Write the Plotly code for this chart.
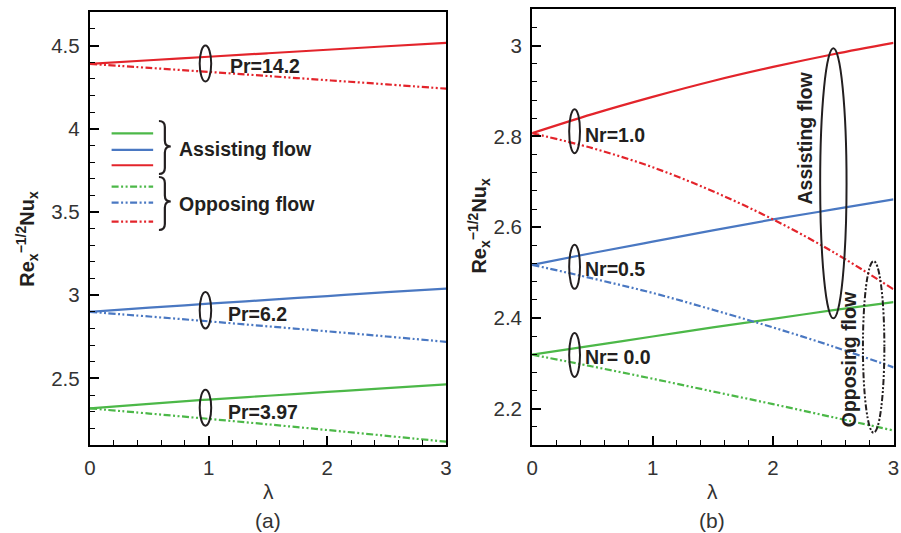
import plotly.graph_objects as go

# ---- data -------------------------------------------------------------
lam = [0.0, 0.5, 1.0, 1.5, 2.0, 2.5, 3.0]

# (a) effect of Prandtl number
pr_labels = ["Pr=3.97", "Pr=6.2", "Pr=14.2"]
pr_assist = [
    [2.320, 2.347, 2.373, 2.396, 2.419, 2.442, 2.464],
    [2.900, 2.925, 2.949, 2.972, 2.995, 3.018, 3.040],
    [4.390, 4.412, 4.433, 4.454, 4.475, 4.496, 4.516],
]
pr_oppose = [
    [2.320, 2.289, 2.257, 2.224, 2.190, 2.155, 2.120],
    [2.900, 2.872, 2.843, 2.813, 2.783, 2.752, 2.720],
    [4.390, 4.366, 4.342, 4.317, 4.292, 4.267, 4.241],
]

# (b) effect of radiation parameter
nr_labels = ["Nr= 0.0", "Nr=0.5", "Nr=1.0"]
nr_assist = [
    [2.319, 2.339, 2.359, 2.379, 2.398, 2.417, 2.435],
    [2.517, 2.543, 2.568, 2.593, 2.617, 2.639, 2.661],
    [2.807, 2.849, 2.887, 2.922, 2.953, 2.981, 3.006],
]
nr_oppose = [
    [2.319, 2.293, 2.266, 2.238, 2.210, 2.181, 2.152],
    [2.517, 2.487, 2.455, 2.418, 2.379, 2.337, 2.291],
    [2.807, 2.774, 2.732, 2.679, 2.617, 2.545, 2.463],
]

colors = ["#4cb848", "#4a78c2", "#e3242b"]
DASH = "7px,2.5px,2px,2.5px,2px,2.5px"
FONT = "Liberation Sans, Arial, sans-serif"
INK = "#231f20"

W, H = 901, 533

fig = go.Figure()

for i in range(3):
    fig.add_trace(go.Scatter(x=lam, y=pr_assist[i], mode="lines", xaxis="x", yaxis="y",
                             line=dict(color=colors[i], width=2.2, shape="spline"),
                             showlegend=False))
    fig.add_trace(go.Scatter(x=lam, y=pr_oppose[i], mode="lines", xaxis="x", yaxis="y",
                             line=dict(color=colors[i], width=2.2, dash=DASH, shape="spline"),
                             showlegend=False))
    fig.add_trace(go.Scatter(x=lam, y=nr_assist[i], mode="lines", xaxis="x2", yaxis="y2",
                             line=dict(color=colors[i], width=2.2, shape="spline"),
                             showlegend=False))
    fig.add_trace(go.Scatter(x=lam, y=nr_oppose[i], mode="lines", xaxis="x2", yaxis="y2",
                             line=dict(color=colors[i], width=2.2, dash=DASH, shape="spline"),
                             showlegend=False))


def P(x, y):
    """pixel position -> paper coordinates"""
    return x / W, 1 - y / H


shapes = []
annotations = []

# ellipses grouping each pair of curves
def ellipse(xr, yr, x0, x1, y0, y1, dash="solid"):
    shapes.append(dict(type="circle", xref=xr, yref=yr, x0=x0, x1=x1, y0=y0, y1=y1,
                       line=dict(color=INK, width=2, dash=dash)))

ellipse("x", "y", 0.925, 1.022, 4.284, 4.500)
ellipse("x", "y", 0.925, 1.022, 2.800, 3.020)
ellipse("x", "y", 0.925, 1.022, 2.216, 2.432)
ellipse("x2", "y2", 0.307, 0.397, 2.763, 2.860)
ellipse("x2", "y2", 0.307, 0.397, 2.464, 2.561)
ellipse("x2", "y2", 0.307, 0.397, 2.270, 2.367)
ellipse("x2", "y2", 2.391, 2.610, 2.399, 2.994)
ellipse("x2", "y2", 2.746, 2.924, 2.147, 2.525, dash="6px,2px,2px,2px,2px,2px")

# key samples in panel (a)
key_y = [3.973, 3.873, 3.781, 3.652, 3.556, 3.442]
for k, yv in enumerate(key_y):
    c = colors[k % 3]
    shapes.append(dict(type="line", xref="x", yref="y", x0=0.183, x1=0.533, y0=yv, y1=yv,
                       line=dict(color=c, width=2.2, dash="solid" if k < 3 else DASH)))

# curly braces
def brace(ytop, ymid, ybot, xl=155, xm=161, xr=167, r=6):
    pts = [
        ("M", [(xl, ytop)]),
        ("Q", [(xm, ytop), (xm, ytop + r)]),
        ("L", [(xm, ymid - r)]),
        ("Q", [(xm, ymid), (xr, ymid)]),
        ("Q", [(xm, ymid), (xm, ymid + r)]),
        ("L", [(xm, ybot - r)]),
        ("Q", [(xm, ybot), (xl, ybot)]),
    ]
    d = ""
    for cmd, pl in pts:
        d += cmd + " " + " ".join("%.5f,%.5f" % P(*p) for p in pl) + " "
    shapes.append(dict(type="path", xref="paper", yref="paper", path=d.strip(),
                       line=dict(color=INK, width=2.2)))

brace(121, 146.5, 174)
brace(177, 201.5, 230)


def label(xr, yr, x, y, text, xanchor="left", angle=0, size=19.5):
    annotations.append(dict(xref=xr, yref=yr, x=x, y=y, text="<b>%s</b>" % text,
                            showarrow=False, xanchor=xanchor, yanchor="middle",
                            textangle=angle, font=dict(family=FONT, size=size, color=INK)))

label("x", "y", 0.731, 3.881, "Assisting flow")
label("x", "y", 0.731, 3.548, "Opposing flow")
label("x", "y", 1.167, 4.380, pr_labels[2])
label("x", "y", 1.147, 2.889, pr_labels[1])
label("x", "y", 1.147, 2.296, pr_labels[0])
label("x2", "y2", 0.424, 2.803, nr_labels[2])
label("x2", "y2", 0.424, 2.507, nr_labels[1])
label("x2", "y2", 0.424, 2.314, nr_labels[0])
label("x2", "y2", 2.268, 2.796, "Assisting flow", xanchor="center", angle=-90)
label("x2", "y2", 2.627, 2.308, "Opposing flow", xanchor="center", angle=-90)

# axis titles and panel captions
ytitle = "<b>Re<sub>x</sub><sup>\u22121/2</sup>Nu<sub>x</sub></b>"
for (px, py) in [(21, 239), (480, 226)]:
    x, y = P(px, py)
    annotations.append(dict(xref="paper", yref="paper", x=x, y=y, text=ytitle, showarrow=False,
                            textangle=-90, xanchor="center", yanchor="middle",
                            font=dict(family=FONT, size=20, color=INK)))
for (px, txt) in [(266, "(a)"), (716, "(b)")]:
    x, y = P(px, 491)
    annotations.append(dict(xref="paper", yref="paper", x=x, y=y, text="\u03bb", showarrow=False,
                            xanchor="center", yanchor="middle",
                            font=dict(family=FONT, size=21, color="#333333")))
    x, y = P(px, 520)
    annotations.append(dict(xref="paper", yref="paper", x=x, y=y, text=txt, showarrow=False,
                            xanchor="center", yanchor="middle",
                            font=dict(family=FONT, size=21, color="#333333")))

tickfont = dict(family=FONT, size=20.5, color="#333333")


def xa(domain, anchor):
    return dict(domain=domain, anchor=anchor, range=[0, 3], dtick=1, tick0=0,
                ticks="inside", ticklen=9, tickwidth=1.6, tickcolor="black",
                minor=dict(dtick=0.2, tick0=0, ticks="inside", ticklen=5, tickwidth=1.3,
                           tickcolor="black", showgrid=False),
                showline=True, linewidth=2.2, linecolor="black", mirror=True,
                showgrid=False, zeroline=False, tickfont=tickfont, ticklabelstandoff=3)


def ya(domain, anchor, rng, dt, mdt):
    return dict(domain=domain, anchor=anchor, range=rng, dtick=dt, tick0=0,
                ticks="inside", ticklen=9, tickwidth=1.6, tickcolor="black",
                minor=dict(dtick=mdt, tick0=0, ticks="inside", ticklen=5, tickwidth=1.3,
                           tickcolor="black", showgrid=False),
                showline=True, linewidth=2.2, linecolor="black", mirror=True,
                showgrid=False, zeroline=False, tickfont=tickfont, ticklabelstandoff=4)


fig.update_layout(
    width=W, height=H,
    margin=dict(l=0, r=0, t=0, b=0),
    paper_bgcolor="white", plot_bgcolor="white",
    xaxis=xa([85 / W, 446 / W], "y"),
    yaxis=ya([1 - 445 / H, 1 - 12.3 / H], "x", [2.1, 4.7], 0.5, 0.1),
    xaxis2=xa([533.3 / W, 899.5 / W], "y2"),
    yaxis2=ya([1 - 445 / H, 1 - 9.3 / H], "x2", [2.12, 3.08], 0.2, 0.04),
    shapes=shapes,
    annotations=annotations,
    showlegend=False,
)

fig.write_html("out.html")
